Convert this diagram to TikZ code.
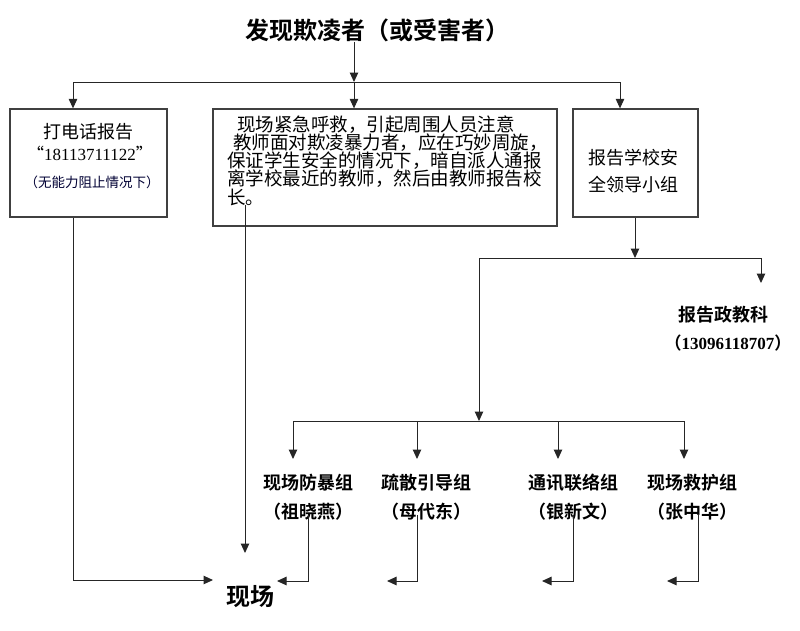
\documentclass[tikz,border=0pt]{standalone}
\usepackage{fontspec}
\setmainfont{Liberation Serif}
\newfontfamily\cjk{Noto Sans CJK SC}[BoldFont={Noto Sans CJK SC Bold}]
\usetikzlibrary{arrows.meta}
\tikzset{
  conn/.style={draw=black!85, line width=1pt},
  arr/.style={conn, -{Triangle[width=8.5pt,length=9.5pt]}},
  boxn/.style={draw=black!75, line width=1.3pt, inner sep=0pt},
  lbl/.style={inner sep=0pt, font=\cjk\bfseries\fontsize{18}{18}\selectfont},
  btxt/.style={inner sep=0pt, font=\cjk\fontsize{18.5}{18.5}\selectfont, anchor=west},
  ctxt/.style={inner sep=0pt, font=\cjk\fontsize{18}{18}\selectfont},
}
\begin{document}
\begin{tikzpicture}[x=1pt,y=-1pt]
\useasboundingbox (0,0) rectangle (800,630);
% title
\node[inner sep=0pt, font=\cjk\bfseries\fontsize{24}{24}\selectfont] (title) at (377.5,30) {发现欺凌者（或受害者）};
% boxes
\node[boxn, minimum width=157pt, minimum height=108pt] (box1) at (88.5,163) {};
\node[boxn, minimum width=344pt, minimum height=117pt] (box2) at (385,167.5) {};
\node[boxn, minimum width=125pt, minimum height=108pt] (box3) at (635.5,163) {};
% box1 texts
\node[inner sep=0pt, font=\cjk\fontsize{18}{18}\selectfont] (b1a) at (88,132) {打电话报告};
\node[inner sep=0pt, font=\fontsize{17}{17}\selectfont] (b1b) at (90,153) {{\cjk “}18113711122{\cjk ”}};
\node[inner sep=0pt, font=\cjk\fontsize{13.5}{13.5}\selectfont, text=black!80!blue] (b1c) at (92,182) {（无能力阻止情况下）};
% box2 texts
\node[btxt] (b2a) at (237,125) {现场紧急呼救，引起周围人员注意};
\node[btxt] (b2b) at (233,143) {教师面对欺凌暴力者，应在巧妙周旋，};
\node[btxt] (b2c) at (227,161) {保证学生安全的情况下，暗自派人通报};
\node[btxt] (b2d) at (227,179) {离学校最近的教师，然后由教师报告校};
\node[btxt] (b2e) at (227,197) {长。};
% box3 texts
\node[ctxt] (b3a) at (633,158) {报告学校安};
\node[ctxt] (b3b) at (633,185) {全领导小组};
% report node
\node[lbl] (rep) at (723,315) {报告政教科};
\node[inner sep=0pt, font=\bfseries\fontsize{17}{17}\selectfont] (repn) at (728,343) {{\cjk（}13096118707{\cjk）}};
% groups
\node[lbl] (g1) at (308,483) {现场防暴组};
\node[lbl] (g1n) at (308,512) {（祖晓燕）};
\node[lbl] (g2) at (426,483) {疏散引导组};
\node[lbl] (g2n) at (426,512) {（母代东）};
\node[lbl] (g3) at (573,483) {通讯联络组};
\node[lbl] (g3n) at (573,512) {（银新文）};
\node[lbl] (g4) at (692,483) {现场救护组};
\node[lbl] (g4n) at (692,512) {（张中华）};
% site
\node[inner sep=0pt, font=\cjk\bfseries\fontsize{24}{24}\selectfont] (site) at (250,597) {现场};
% coordinates
\coordinate (j0) at (354,82);
\coordinate (jl) at (73,82);
\coordinate (jr) at (620,82);
\coordinate (c1) at (73,580);
\coordinate (s1) at (213,580);
\coordinate (c2a) at (245,205);
\coordinate (c2b) at (245,553);
\coordinate (j3) at (635,258);
\coordinate (h3l) at (479,258);
\coordinate (h3r) at (761,258);
\coordinate (r3) at (761,283);
\coordinate (h4) at (479,421);
\coordinate (h4l) at (293,421);
\coordinate (h4r) at (684,421);
\coordinate (a1) at (293,459);
\coordinate (a2) at (417,459);
\coordinate (a3) at (558,459);
\coordinate (a4) at (684,459);
\coordinate (t1) at (308,515);
\coordinate (t2) at (417,515);
\coordinate (t3) at (573,515);
\coordinate (t4) at (698,515);
\coordinate (e1) at (277,581);
\coordinate (e2) at (387,581);
\coordinate (e3) at (542,581);
\coordinate (e4) at (667,581);
% connectors
\draw[arr] (title.south -| j0) -- (j0);
\draw[conn] (jl) -- (jr);
\draw[arr] (jl) -- (box1.north -| jl);
\draw[arr] (j0) -- (box2.north -| j0);
\draw[arr] (jr) -- (box3.north -| jr);
\draw[arr] (box1.south -| c1) -- (c1) -- (s1);
\draw[arr] (c2a) -- (c2b);
\draw[arr] (box3.south -| j3) -- (j3);
\draw[conn] (h3l) -- (h3r);
\draw[arr] (h3r) -- (r3);
\draw[arr] (h3l) -- (h4);
\draw[conn] (h4l) -- (h4r);
\draw[arr] (h4l) -- (a1);
\draw[arr] (h4 -| a2) -- (a2);
\draw[arr] (h4 -| a3) -- (a3);
\draw[arr] (h4r) -- (a4);
\draw[arr] (t1) -- (t1 |- e1) -- (e1);
\draw[arr] (t2) -- (t2 |- e2) -- (e2);
\draw[arr] (t3) -- (t3 |- e3) -- (e3);
\draw[arr] (t4) -- (t4 |- e4) -- (e4);
\end{tikzpicture}
\end{document}
